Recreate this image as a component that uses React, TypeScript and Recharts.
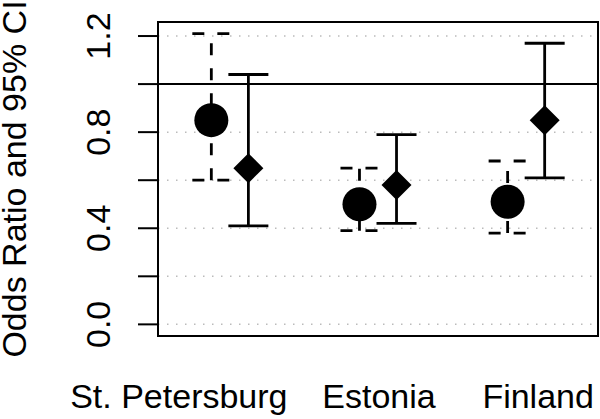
import React from 'react';
import {
  ComposedChart, Scatter, ErrorBar, XAxis, YAxis, CartesianGrid,
  ReferenceLine, ReferenceArea
} from 'recharts';

// --- data ---
const countries = ['St. Petersburg', 'Estonia', 'Finland'];

// circles (dashed CI)
const circleOR = [0.85, 0.5, 0.51];
const circleLow = [0.6, 0.39, 0.38];
const circleHigh = [1.21, 0.65, 0.68];

// diamonds (solid CI)
const diamondOR = [0.65, 0.58, 0.85];
const diamondLow = [0.41, 0.42, 0.61];
const diamondHigh = [1.04, 0.79, 1.17];

const yTicks = [0, 0.2, 0.4, 0.6, 0.8, 1.0, 1.2];
const yTickLabels = ['0.0', '', '0.4', '', '0.8', '', '1.2'];

// --- style constants ---
const FONT = 'Liberation Sans, Arial, sans-serif';
const FS = 34;
const DODGE = 0.125;
const LABEL_SHIFT = [-51, 1, 12];
const X_DOMAIN = [0.515, 3.485];
const Y_DOMAIN = [-0.0484, 1.2584];

const circleData = countries.map((c, i) => ({
  x: i + 1 - DODGE,
  y: circleOR[i],
  err: [circleOR[i] - circleLow[i], circleHigh[i] - circleOR[i]],
}));

const diamondData = countries.map((c, i) => ({
  x: i + 1 + DODGE,
  y: diamondOR[i],
  err: [diamondOR[i] - diamondLow[i], diamondHigh[i] - diamondOR[i]],
}));

const CircleShape = (props: any) => (
  <circle cx={props.cx} cy={props.cy} r={17} fill="#000" />
);

const DiamondShape = (props: any) => {
  const { cx, cy } = props;
  const r = 15;
  return <polygon points={`${cx},${cy - r} ${cx + r},${cy} ${cx},${cy + r} ${cx - r},${cy}`} fill="#000" />;
};

const XTick = (props: any) => {
  const { x, y, index } = props;
  return (
    <text x={x + LABEL_SHIFT[index]} y={y + 72} textAnchor="middle" fontSize={FS} fontFamily={FONT} fill="#000">
      {countries[index]}
    </text>
  );
};

const YTick = (props: any) => {
  const { x, y, index } = props;
  const bx = x - 26;
  return (
    <text x={bx} y={y} transform={`rotate(-90, ${bx}, ${y})`} textAnchor="middle" fontSize={FS} fontFamily={FONT} fill="#000">
      {yTickLabels[index]}
    </text>
  );
};

const YTitle = (props: any) => {
  const vb = props.viewBox;
  const cy = vb.y + vb.height / 2;
  return (
    <text x={26} y={cy} transform={`rotate(-90, 26, ${cy})`} textAnchor="middle" fontSize={FS} fontFamily={FONT} fill="#000">
      Odds Ratio and 95% CI
    </text>
  );
};

export default function App() {
  return (
    <div style={{ position: 'absolute', left: 0, top: 0, width: 600, height: 419, background: '#fff' }}>
      <ComposedChart width={600} height={419} margin={{ top: 22, right: 2, bottom: 0, left: 0 }}>
        <CartesianGrid vertical={false} stroke="#bbb" strokeWidth={1.5} strokeDasharray="1.5 7.5" />
        <XAxis
          type="number"
          dataKey="x"
          domain={X_DOMAIN}
          ticks={[1, 2, 3]}
          height={83}
          tickLine={false}
          axisLine={false}
          tickSize={0}
          tickMargin={0}
          tick={<XTick />}
          allowDataOverflow
        />
        <YAxis
          type="number"
          dataKey="y"
          domain={Y_DOMAIN}
          ticks={yTicks}
          width={158}
          axisLine={false}
          tickLine={{ stroke: '#000', strokeWidth: 2 }}
          tickSize={20}
          tickMargin={2}
          tick={<YTick />}
          interval={0}
          allowDataOverflow
          label={{ content: YTitle }}
        />
        <ReferenceArea
          x1={X_DOMAIN[0]} x2={X_DOMAIN[1]} y1={Y_DOMAIN[0]} y2={Y_DOMAIN[1]}
          fill="none" fillOpacity={0} stroke="#000" strokeWidth={2} strokeOpacity={1}
          ifOverflow="visible"
        />
        <ReferenceLine y={1} stroke="#000" strokeWidth={2} />
        <Scatter data={circleData} dataKey="y" shape={CircleShape} isAnimationActive={false}>
          <ErrorBar dataKey="err" direction="y" width={19} stroke="#000" strokeWidth={2.8} strokeDasharray="12 13" />
        </Scatter>
        <Scatter data={diamondData} dataKey="y" shape={DiamondShape} isAnimationActive={false}>
          <ErrorBar dataKey="err" direction="y" width={20} stroke="#000" strokeWidth={2.8} />
        </Scatter>
      </ComposedChart>
    </div>
  );
}
